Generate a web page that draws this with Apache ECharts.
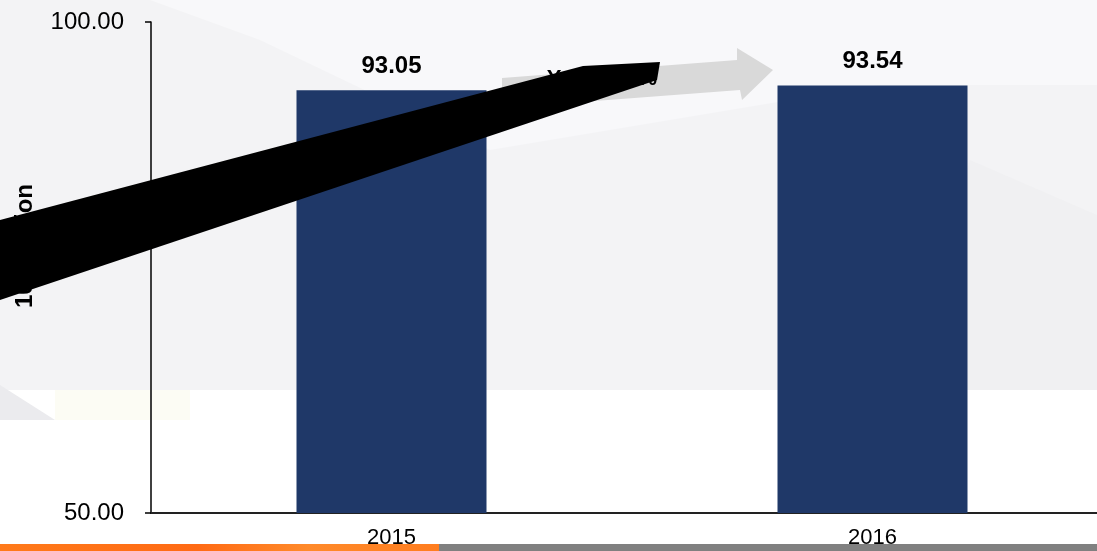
<!DOCTYPE html>
<html><head><meta charset="utf-8">
<script src="https://cdn.jsdelivr.net/npm/echarts@6/dist/echarts.min.js"></script>
<style>html,body{margin:0;padding:0;background:#fff}#c{width:1097px;height:551px}</style>
</head><body><div id="c"></div>
<script>
const categories = ['2015', '2016'];
const values = [93.05, 93.54];
const yMin = 50;
const yMax = 100;
const yInterval = 50;
const yAxisTitle = '100 million';
const arrowText = 'YoY +0.5%';

const chart = echarts.init(document.getElementById('c'), null, {renderer: 'canvas'});
const FONT = '"Liberation Sans", Arial, sans-serif';

const option = {
  backgroundColor: '#ffffff',
  animation: false,
  grid: {left: 151, width: 962, top: 22, bottom: 38, containLabel: false, outerBoundsMode: 'none'},
  xAxis: {
    type: 'category',
    data: categories,
    axisLine: {show: true, lineStyle: {color: '#222', width: 2}},
    axisTick: {show: false},
    axisLabel: {color: '#000', fontFamily: FONT, fontSize: 22, margin: 14}
  },
  yAxis: {
    type: 'value',
    min: yMin, max: yMax, interval: yInterval,
    axisLine: {show: true, lineStyle: {color: '#000', width: 1.5}},
    axisTick: {show: true, length: 6, lineStyle: {color: '#000', width: 1.5}},
    splitLine: {show: false},
    axisLabel: {color: '#000', fontFamily: FONT, fontSize: 24, margin: 27,
      formatter: v => v.toFixed(2)}
  },
  series: [{
    type: 'bar',
    data: values,
    barWidth: 190,
    itemStyle: {color: '#1f3868'},
    label: {show: true, position: 'top', distance: 12, color: '#000',
      fontFamily: FONT, fontSize: 24, fontWeight: 'bold',
      formatter: p => p.value.toFixed(2)},
    z: 2
  }],
  graphic: [
    // background
    {type: 'rect', z: -100, silent: true, shape: {x: 0, y: 0, width: 1097, height: 390}, style: {fill: '#f3f3f5'}},
    {type: 'polygon', z: -99, silent: true, shape: {points: [[150,0],[1097,0],[1097,85],[880,85],[490,150],[260,40]]}, style: {fill: '#f8f8fa'}},
    {type: 'polygon', z: -99, silent: true, shape: {points: [[970,160],[1097,215],[1097,390],[900,390]]}, style: {fill: '#f0f0f2'}},
    {type: 'polygon', z: -99, silent: true, shape: {points: [[0,385],[55,420],[0,420]]}, style: {fill: '#ebebee'}},
    {type: 'rect', z: -99, silent: true, shape: {x: 55, y: 390, width: 135, height: 30}, style: {fill: '#fcfcf4'}},
    // bottom strip (below axis labels)
    {type: 'rect', z: -90, silent: true, shape: {x: 0, y: 544, width: 439, height: 7},
      style: {fill: new echarts.graphic.LinearGradient(0,0,1,0,[{offset:0,color:'#ff7a1a'},{offset:0.45,color:'#ff6a14'},{offset:0.7,color:'#ff8a2a'},{offset:1,color:'#ff7d1f'}])}},
    {type: 'rect', z: -90, silent: true, shape: {x: 439, y: 544, width: 658, height: 7}, style: {fill: '#808080'}},
    // gray arrow
    {type: 'polygon', z: 40, silent: true, shape: {points: [[502,78],[737,60],[737,48],[773,70],[742,100],[740,90],[502,108]]}, style: {fill: '#d9d9d9'}},
    // arrow text
    {type: 'text', z: 45, silent: true, x: 602, y: 79, style: {text: arrowText, fill: '#000', font: 'bold 22px ' + FONT, align: 'center', verticalAlign: 'middle'}},
    // y axis title
    {type: 'text', z: 45, silent: true, x: 25, y: 246, rotation: Math.PI / 2,
      style: {text: yAxisTitle, fill: '#000', font: 'bold 24px ' + FONT, align: 'center', verticalAlign: 'middle'}},
    // black overlay shape
    {type: 'polygon', z: 100, silent: true, shape: {points: [[0,220],[583,66],[660,62],[657,80],[0,300]]}, style: {fill: '#000'}}
  ]
};
chart.setOption(option);
</script>
</body></html>
